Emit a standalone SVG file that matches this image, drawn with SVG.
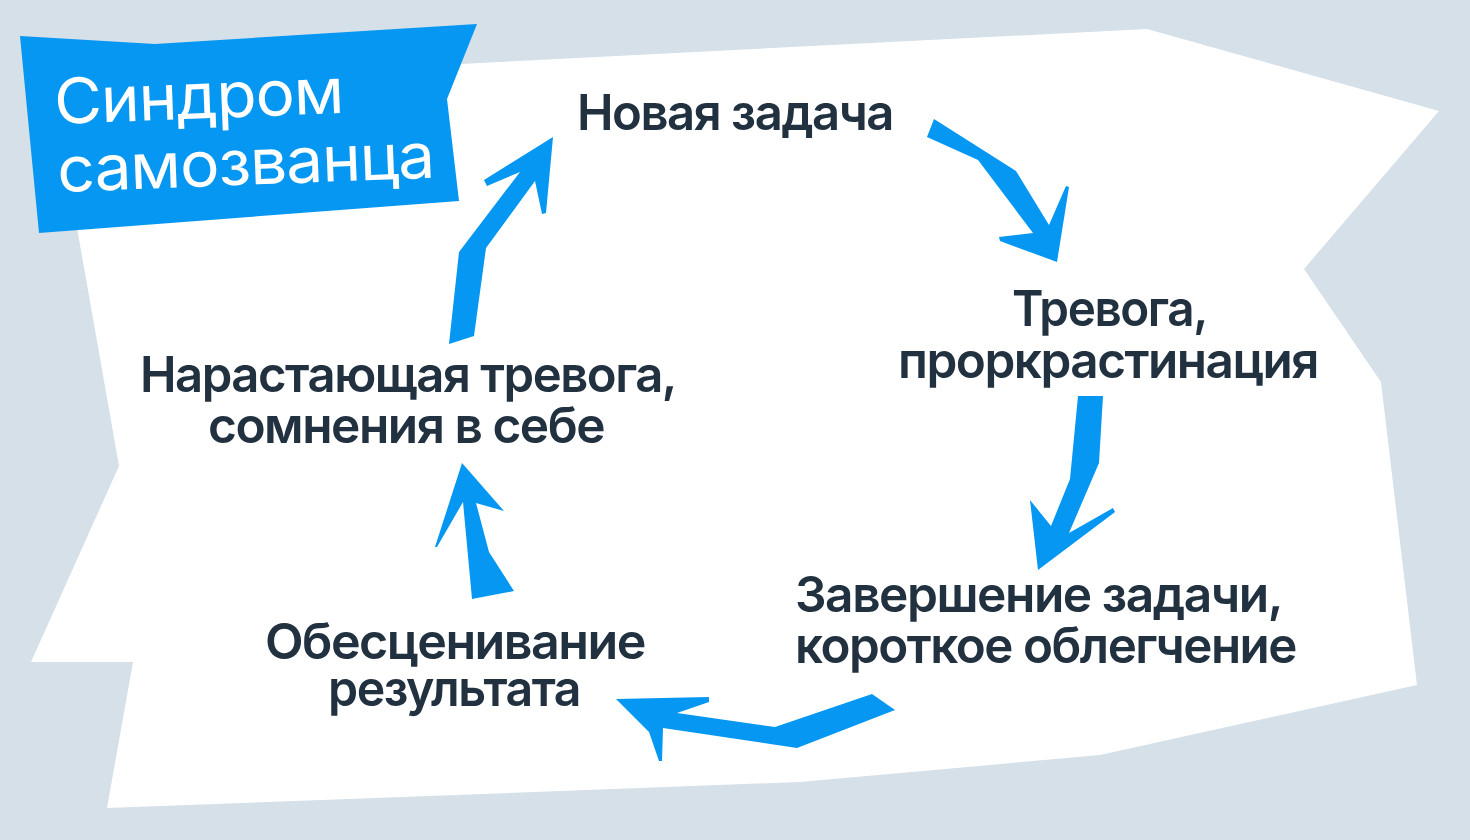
<svg xmlns="http://www.w3.org/2000/svg" width="1470" height="840" viewBox="0 0 1470 840">
<style>
.lbl{font-family:Inter,"Noto Sans","Liberation Sans",sans-serif;font-weight:600;font-size:50px;letter-spacing:-1.5px;fill:#213140;}
.ttl{font-family:Inter,"Noto Sans","Liberation Sans",sans-serif;font-weight:400;font-size:63px;letter-spacing:-1px;fill:#ffffff;}
.arr{fill:#0597F2;}
</style>
<rect x="0" y="0" width="1470" height="840" fill="#D5E0E8"/>
<polygon id="sheet" fill="#ffffff" points="440,65 1147,29 1439,111 1304,269 1381,382 1417,685 1100,755 800,782 107,808 133,662 31,662 119,466 76,222"/>
<g id="title">
<polygon fill="#0597F2" points="20,36 155,44 477,24 447,99 459,201 39,233"/>
<text class="ttl" x="55" y="124" textLength="289" lengthAdjust="spacingAndGlyphs" transform="rotate(-2.2 55 124)">Синдром</text>
<text class="ttl" x="58" y="192" textLength="377" lengthAdjust="spacingAndGlyphs" transform="rotate(-2.2 58 192)">самозванца</text>
</g>
<g id="connectors">
<polygon class="arr" points="449,344 474,336 486,248 535,181 542,214 546,213 553,137 484,180 487,186 520,172 459,252"/>
<polygon class="arr" points="934,119 927,137 978,160 1033,233 999,237 1000,241 1057,262 1069,187 1066,186 1049,225 1016,171"/>
<polygon class="arr" points="1078,396 1103,396 1099,463 1069,533 1113,508 1115,512 1038,570 1030,500 1051,526 1070,479"/>
<polygon class="arr" points="872,694 895,710 797,748 663,728 662,761 659,761 649,732 616,699 709,697 709,702 677,713 775,727"/>
<polygon class="arr" points="472,599 514,591 489,552 476,503 504,511 462,463 435,547 437,547 463,502"/>
</g>
<g id="node-new-task">
<text class="lbl" x="577" y="130" textLength="316" lengthAdjust="spacingAndGlyphs">Новая задача</text>
</g>
<g id="node-anxiety">
<text class="lbl" x="1012" y="326" textLength="195" lengthAdjust="spacingAndGlyphs">Тревога,</text>
<text class="lbl" x="898" y="378" textLength="420" lengthAdjust="spacingAndGlyphs">проркрастинация</text>
</g>
<g id="node-complete">
<text class="lbl" x="795" y="612" textLength="487" lengthAdjust="spacingAndGlyphs">Завершение задачи,</text>
<text class="lbl" x="795" y="663" textLength="501" lengthAdjust="spacingAndGlyphs">короткое облегчение</text>
</g>
<g id="node-devalue">
<text class="lbl" x="265" y="659" textLength="380" lengthAdjust="spacingAndGlyphs">Обесценивание</text>
<text class="lbl" x="328" y="706" textLength="252" lengthAdjust="spacingAndGlyphs">результата</text>
</g>
<g id="node-doubt">
<text class="lbl" x="140" y="392" textLength="536" lengthAdjust="spacingAndGlyphs">Нарастающая тревога,</text>
<text class="lbl" x="208" y="443" textLength="396" lengthAdjust="spacingAndGlyphs">сомнения в себе</text>
</g>
</svg>
